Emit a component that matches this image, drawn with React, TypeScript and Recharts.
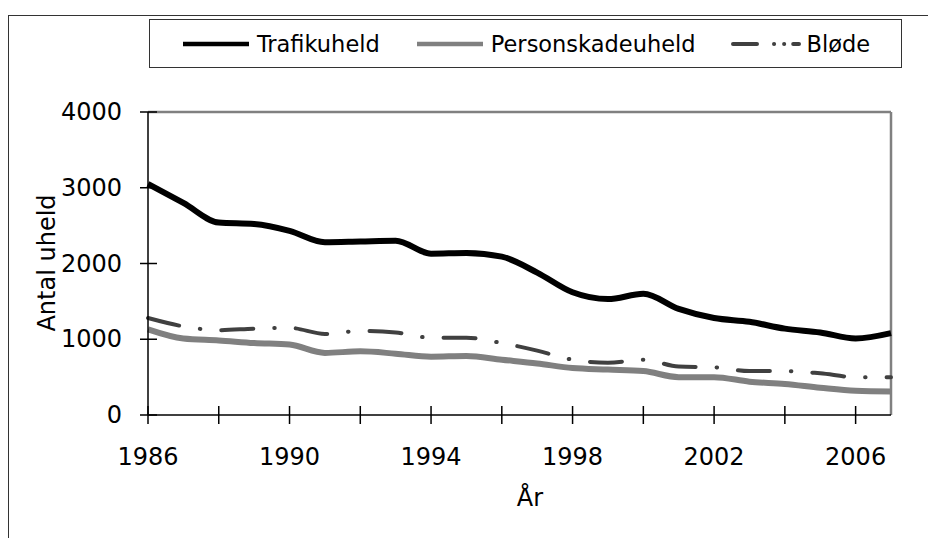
import { LineChart, Line, XAxis, YAxis, ReferenceLine, Legend } from 'recharts';

const years = [
  1986, 1987, 1988, 1989, 1990, 1991, 1992, 1993, 1994, 1995, 1996,
  1997, 1998, 1999, 2000, 2001, 2002, 2003, 2004, 2005, 2006, 2007,
];
const trafikuheld = [
  3050, 2800, 2540, 2520, 2430, 2280, 2290, 2300, 2130, 2140, 2090,
  1880, 1620, 1530, 1600, 1400, 1280, 1230, 1140, 1090, 1010, 1080,
];
const personskadeuheld = [
  1130, 1010, 985, 950, 930, 820, 840, 810, 770, 780, 730,
  680, 620, 600, 580, 500, 500, 440, 410, 360, 320, 310,
];
const bloede = [
  1280, 1170, 1120, 1140, 1150, 1070, 1110, 1090, 1020, 1020, 950,
  850, 730, 690, 730, 640, 630, 580, 580, 550, 500, 500,
];
const yTicks = [0, 1000, 2000, 3000, 4000];
const xTicks = [1986, 1988, 1990, 1992, 1994, 1996, 1998, 2000, 2002, 2004, 2006];
const xLabels = [1986, 1990, 1994, 1998, 2002, 2006];

const data = years.map((year, i) => ({
  year,
  trafik: trafikuheld[i],
  person: personskadeuheld[i],
  bloede: bloede[i],
}));

const FONT = '"DejaVu Sans", Verdana, sans-serif';
const TICK = 9;

const series = [
  { key: 'trafik', name: 'Trafikuheld', color: '#000000', width: 6, dash: undefined, legendDash: undefined },
  { key: 'person', name: 'Personskadeuheld', color: '#808080', width: 6, dash: undefined, legendDash: undefined },
  { key: 'bloede', name: 'Bløde', color: '#404040', width: 4, dash: '32 21 0.5 21', legendDash: '24 17 0.1 10 0.1 9 6' },
];

// ticks cross the axis: the outer half is drawn by recharts, the inner half here
function XTick({ x, y, payload }: any) {
  const axisY = y - TICK - 2;
  return (
    <g>
      <line x1={x} x2={x} y1={axisY} y2={axisY - TICK} stroke="#000" strokeWidth={1.5} />
      {xLabels.includes(payload.value) && (
        <text x={x} y={y} dy={39} textAnchor="middle" fill="#000" fontSize={24} fontFamily={FONT}>
          {payload.value}
        </text>
      )}
    </g>
  );
}

function YTick({ x, y, payload }: any) {
  const axisX = x + 18 + 8;
  return (
    <g>
      <line x1={axisX} x2={axisX + TICK} y1={y} y2={y} stroke="#000" strokeWidth={1.5} />
      <text x={x} y={y} dy={8} textAnchor="end" fill="#000" fontSize={24} fontFamily={FONT}>
        {payload.value}
      </text>
    </g>
  );
}

function LegendBox() {
  return (
    <div
      style={{
        width: 753,
        height: 49,
        boxSizing: 'border-box',
        border: '1.5px solid #333',
        background: '#fff',
        display: 'flex',
        alignItems: 'center',
        justifyContent: 'center',
        gap: 35,
        fontFamily: FONT,
        fontSize: 22.5,
        color: '#000',
      }}
    >
      {series.map((s) => (
        <div key={s.key} style={{ display: 'flex', alignItems: 'center' }}>
          <svg width={70} height={10} style={{ marginRight: 6 }}>
            <line
              x1={2}
              x2={68}
              y1={5}
              y2={5}
              stroke={s.color}
              strokeWidth={s.width === 6 ? 4.5 : 4}
              strokeDasharray={s.legendDash}
              strokeLinecap={s.legendDash ? 'round' : 'butt'}
            />
          </svg>
          <span>{s.name}</span>
        </div>
      ))}
    </div>
  );
}

export default function App() {
  return (
    <div style={{ position: 'fixed', left: 0, top: 0, width: 928, height: 538, background: '#fff' }}>
      <div
        style={{
          position: 'absolute',
          left: 8,
          top: 15,
          width: 920,
          height: 523,
          borderTop: '1.5px solid #333',
          borderLeft: '1.5px solid #333',
        }}
      />
      <LineChart
        width={928}
        height={538}
        data={data}
        margin={{ top: 112, right: 37, bottom: 0, left: 0 }}
        style={{ position: 'absolute', left: 0, top: 0 }}
      >
        <XAxis
          dataKey="year"
          type="number"
          domain={[1986, 2007]}
          ticks={xTicks}
          interval={0}
          height={123}
          tickSize={TICK}
          stroke="#000"
          strokeWidth={1.5}
          tick={<XTick />}
          label={{
            content: () => (
              <text x={530} y={506} textAnchor="middle" fill="#000" fontSize={24} fontFamily={FONT}>
                År
              </text>
            ),
          }}
        />
        <YAxis
          domain={[0, 4000]}
          ticks={yTicks}
          interval={0}
          width={148}
          tickSize={8}
          tickMargin={18}
          stroke="#000"
          strokeWidth={1.5}
          tick={<YTick />}
          label={{
            content: () => (
              <text
                x={47}
                y={263}
                transform="rotate(-90 47 263)"
                textAnchor="middle"
                dy={8}
                fill="#000"
                fontSize={24}
                fontFamily={FONT}
              >
                Antal uheld
              </text>
            ),
          }}
        />
        <ReferenceLine y={4000} stroke="#808080" strokeWidth={2.5} />
        <ReferenceLine x={2007} stroke="#808080" strokeWidth={2.5} />
        <Legend
          layout="horizontal"
          verticalAlign="middle"
          content={<LegendBox />}
          wrapperStyle={{ position: 'absolute', left: 149, top: 19, width: 753, height: 49 }}
        />
        {series.map((s) => (
          <Line
            key={s.key}
            dataKey={s.key}
            name={s.name}
            type="monotone"
            stroke={s.color}
            strokeWidth={s.width}
            strokeDasharray={s.dash}
            strokeLinecap={s.dash ? 'round' : 'butt'}
            dot={false}
            activeDot={false}
            isAnimationActive={false}
          />
        ))}
      </LineChart>
    </div>
  );
}
